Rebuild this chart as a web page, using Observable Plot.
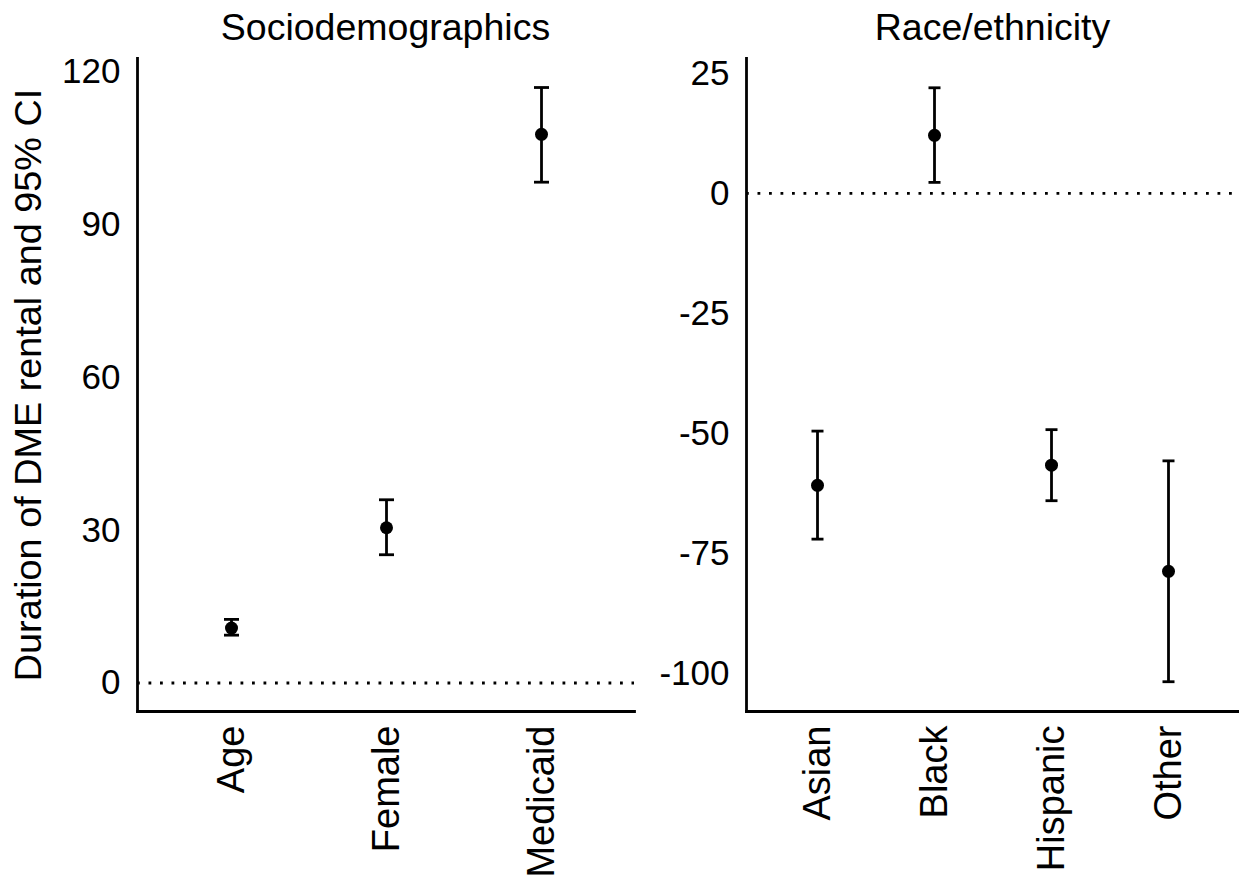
<!DOCTYPE html>
<html><head><meta charset="utf-8">
<script src="https://cdn.jsdelivr.net/npm/d3@7"></script>
<script src="https://cdn.jsdelivr.net/npm/@observablehq/plot@0.6"></script>
<style>
body{margin:0;background:#fff;}
#wrap{position:relative;width:1239px;height:879px;font-family:"Liberation Sans",Arial,sans-serif;overflow:hidden;}
#wrap svg{position:absolute;top:0;}
.title{position:absolute;top:8px;font-size:37.5px;text-align:center;line-height:38px;color:#000;white-space:nowrap;}
</style></head><body>
<div id="wrap">
 <div class="title" style="left:137px;width:497px">Sociodemographics</div>
 <div class="title" style="left:746px;width:493px">Race/ethnicity</div>
</div>
<script>
const socioCats = ["Age", "Female", "Medicaid"];
const socioEst = [10.8, 30.5, 107.8];
const socioLo = [9.4, 25.2, 98.4];
const socioHi = [12.5, 36.0, 117.0];
const socioTicks = [0, 30, 60, 90, 120];

const raceCats = ["Asian", "Black", "Hispanic", "Other"];
const raceEst = [-60.8, 12.1, -56.6, -78.7];
const raceLo = [-72.0, 2.3, -64.0, -101.7];
const raceHi = [-49.5, 22.0, -49.2, -55.7];
const raceTicks = [25, 0, -25, -50, -75, -100];

const yLabel = "Duration of DME rental and 95% CI";

const capSymbol = {
  draw(ctx, size) {
    const r = Math.sqrt(size / Math.PI);
    ctx.moveTo(-r, 0);
    ctx.lineTo(r, 0);
  }
};

function panel({cats, est, lo, hi, ticks, domain, width, marginLeft, marginRight, capR, extra}) {
  const data = cats.map((c, i) => ({c, est: est[i], lo: lo[i], hi: hi[i]}));
  return Plot.plot({
    width, height: 879,
    marginTop: 58, marginBottom: 168, marginLeft, marginRight,
    style: {fontFamily: '"Liberation Sans", Arial, sans-serif', fontSize: "35px", color: "#000", background: "transparent", overflow: "visible"},
    x: {type: "point", domain: cats, padding: 0.6, axis: null},
    y: {domain, axis: null},
    marks: [
      Plot.ruleY([0], {stroke: "#000", strokeWidth: 2.8, strokeDasharray: "2.8,8.7"}),
      Plot.ruleX(data, {x: "c", y1: "lo", y2: "hi", stroke: "#000", strokeWidth: 2.8}),
      Plot.dot(data, {x: "c", y: "lo", symbol: capSymbol, r: capR, stroke: "#000", strokeWidth: 2.8, fill: "none"}),
      Plot.dot(data, {x: "c", y: "hi", symbol: capSymbol, r: capR, stroke: "#000", strokeWidth: 2.8, fill: "none"}),
      Plot.dot(data, {x: "c", y: "est", r: 6.5, fill: "#000", stroke: "none"}),
      Plot.axisY({ticks, tickSize: 0, tickPadding: 17, tickFormat: d => String(d), label: null}),
      Plot.axisX({tickSize: 0, tickRotate: -90, tickPadding: 14, label: null, fontSize: 38}),
      Plot.frame({anchor: "left", stroke: "#000", strokeWidth: 2.8}),
      Plot.frame({anchor: "bottom", stroke: "#000", strokeWidth: 2.8}),
      ...(extra || [])
    ]
  });
}

const left = panel({
  cats: socioCats, est: socioEst, lo: socioLo, hi: socioHi, ticks: socioTicks,
  domain: [-5.6, 122.7], width: 640, marginLeft: 137, marginRight: 6, capR: 7.5,
  extra: [Plot.text([yLabel], {text: d => d, frameAnchor: "left", textAnchor: "middle", lineAnchor: "middle", rotate: -90, dx: -109, fontSize: 37.8})]
});
left.style.left = "0px";

const right = panel({
  cats: raceCats, est: raceEst, lo: raceLo, hi: raceHi, ticks: raceTicks,
  domain: [-107.9, 28.1], width: 599, marginLeft: 106, marginRight: 0, capR: 6
});
right.style.left = "640px";

const wrap = document.getElementById("wrap");
wrap.appendChild(left);
wrap.appendChild(right);
</script>
</body></html>
